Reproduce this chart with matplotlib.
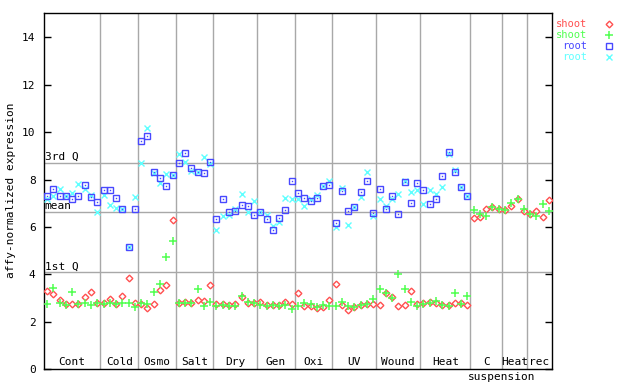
import numpy as np
import matplotlib
matplotlib.use("Agg")
import matplotlib.pyplot as plt
from matplotlib.lines import Line2D

group_names = ["Cont", "Cold", "Osmo", "Salt", "Dry", "Gen", "Oxi", "UV", "Wound", "Heat", "C", "Heat", "rec"]
group_sizes = [9, 6, 6, 6, 7, 6, 6, 7, 7, 8, 5, 4, 4]

shoot_red = [3.29, 3.15, 2.91, 2.75, 2.75, 2.75, 3.04, 3.25, 2.80,
             2.80, 2.97, 2.75, 3.07, 3.84, 2.80,
             2.75, 2.56, 2.75, 3.34, 3.55, 6.29,
             2.80, 2.83, 2.80, 2.91, 2.87, 3.55,
             2.75, 2.75, 2.70, 2.75, 3.04, 2.80, 2.80,
             2.83, 2.70, 2.70, 2.70, 2.83, 2.75,
             3.21, 2.66, 2.66, 2.56, 2.62, 2.91,
             3.59, 2.70, 2.48, 2.60, 2.70, 2.75, 2.75,
             2.70, 3.21, 3.04, 2.65, 2.70, 3.29, 2.75,
             2.77, 2.83, 2.80, 2.70, 2.70, 2.80, 2.80, 2.70,
             6.37, 6.41, 6.75, 6.83, 6.75,
             6.70, 6.87, 7.17, 6.66,
             6.53, 6.66, 6.41, 7.13]

shoot_green = [2.75, 3.41, 2.80, 2.70, 3.24, 2.75, 2.80, 2.69, 2.80,
               2.75, 2.80, 2.75, 2.80, 2.80, 2.62,
               2.80, 2.75, 3.24, 3.59, 4.73, 5.40,
               2.80, 2.80, 2.80, 3.37, 2.66, 2.83,
               2.66, 2.70, 2.66, 2.66, 3.10, 2.83, 2.80,
               2.70, 2.66, 2.70, 2.66, 2.70, 2.52,
               2.66, 2.80, 2.75, 2.62, 2.70, 2.66,
               2.66, 2.83, 2.66, 2.62, 2.70, 2.75, 2.96,
               3.37, 3.21, 2.99, 4.00, 3.37, 2.83, 2.66,
               2.75, 2.80, 2.86, 2.70, 2.66, 3.21, 2.75, 3.08,
               6.70, 6.53, 6.45, 6.83, 6.75,
               6.70, 7.00, 7.17, 6.75,
               6.53, 6.45, 6.96, 6.66]

root_blue = [7.29, 7.59, 7.29, 7.29, 7.17, 7.29, 7.76, 7.26, 7.05,
             7.55, 7.55, 7.21, 6.74, 5.14, 6.74,
             9.62, 9.83, 8.33, 8.08, 7.73, 8.18,
             8.69, 9.12, 8.48, 8.31, 8.26, 8.73,
             6.32, 7.17, 6.62, 6.66, 6.94, 6.90, 6.49,
             6.62, 6.32, 5.86, 6.36, 6.70, 7.93,
             7.42, 7.21, 7.10, 7.21, 7.72, 7.76,
             6.15, 7.51, 6.66, 6.82, 7.46, 7.93, 6.58,
             7.59, 6.74, 7.29, 6.53, 7.89, 7.00, 7.84,
             7.55, 6.96, 7.17, 8.14, 9.15, 8.31, 7.67, 7.31]

root_cyan = [7.19, 7.29, 7.59, 7.29, 7.42, 7.81, 7.59, 7.33, 6.62,
             7.33, 6.91, 6.79, 6.74, 5.14, 7.25,
             8.69, 10.18, 8.28, 7.85, 8.22, 8.18,
             9.08, 8.73, 8.34, 8.31, 8.94, 8.64,
             5.87, 6.47, 6.50, 6.74, 7.38, 6.62, 7.08,
             6.62, 6.50, 6.03, 6.21, 7.21, 7.17,
             7.17, 6.87, 7.17, 7.33, 7.72, 7.93,
             5.98, 7.63, 6.07, 6.82, 7.28, 8.31, 6.44,
             7.17, 6.87, 7.17, 7.38, 7.93, 7.46, 7.55,
             6.96, 7.55, 7.38, 7.67, 9.07, 8.39, 7.67, 7.31]

q3_value = 8.69
mean_value = 6.62
q1_value = 4.08

RED = "#ff5050"
GREEN = "#50ff50"
BLUE = "#4848ff"
CYAN = "#60ffff"
GRID = "#a8a8a8"
FONT = "DejaVu Sans Mono"
FS = 8

n = len(shoot_red)
x_all = np.arange(n)
x_root = np.arange(len(root_blue))

fig = plt.figure(figsize=(6.4, 3.84), dpi=100)
ax = fig.add_axes([44 / 640, 15 / 384, 508 / 640, 356 / 384])
ax.set_xlim(-0.5, n - 0.5)
ax.set_ylim(0, 15.03)

bounds = np.cumsum(group_sizes)
for b in bounds[:-1]:
    ax.axvline(b - 0.5, color=GRID, lw=1.0, zorder=1)

for v in (q3_value, mean_value, q1_value):
    ax.axhline(v, color=GRID, lw=1.0, zorder=1)

ax.text(-0.4, q3_value + 0.04, "3rd Q", fontsize=FS, family=FONT, va="bottom", ha="left")
ax.text(-0.4, mean_value + 0.04, "mean", fontsize=FS, family=FONT, va="bottom", ha="left")
ax.text(-0.4, q1_value + 0.04, "1st Q", fontsize=FS, family=FONT, va="bottom", ha="left")

ax.plot(x_root, root_cyan, ls="none", marker="x", ms=4.2, mew=1.0, color=CYAN, zorder=3)
ax.plot(x_root, root_blue, ls="none", marker="s", ms=4.2, mew=1.0, mfc="none", mec=BLUE, zorder=4)
ax.plot(x_root, root_blue, ls="none", marker="s", ms=1.0, mew=0, color=BLUE, zorder=4)
ax.plot(x_all, shoot_red, ls="none", marker="D", ms=3.4, mew=1.0, mfc="white", mec=RED, zorder=3)
ax.plot(x_all, shoot_green, ls="none", marker="+", ms=5.5, mew=1.1, color=GREEN, zorder=4)

start = 0
for name, size in zip(group_names, group_sizes):
    center = start + (size - 1) / 2
    ax.text(center, 0.1, name, fontsize=FS, family=FONT, ha="center", va="bottom")
    start += size
fig.text(502 / 640, 1 - 377 / 384, "suspension", fontsize=FS, family=FONT,
         ha="center", va="center")

ax.set_xticks([])
ax.set_yticks(np.arange(0, 15, 2))
ax.set_yticklabels([str(v) for v in range(0, 15, 2)], family=FONT, fontsize=FS)
ax.tick_params(axis="y", direction="in", length=5, width=1, left=True, right=True, pad=6)
for s in ax.spines.values():
    s.set_linewidth(1.0)
fig.text(11 / 640, 1 - 190 / 384, "affy-normalized expression", family=FONT, fontsize=FS,
         rotation=90, ha="center", va="center")

leg = [("shoot", RED, dict(marker="D", ms=3.4, mfc="white", mec=RED, mew=1.0)),
       ("shoot", GREEN, dict(marker="+", ms=5.5, color=GREEN, mew=1.1)),
       ("root", BLUE, dict(marker="s", ms=4.2, mfc="none", mec=BLUE, mew=1.0)),
       ("root", CYAN, dict(marker="x", ms=4.2, color=CYAN, mew=1.0))]
for k, (lab, col, mk) in enumerate(leg):
    ypix = 24 + 11 * k
    yf = 1 - ypix / 384
    fig.text(587 / 640, yf, lab, color=col, family=FONT, fontsize=7.5, ha="right", va="center")
    fig.add_artist(Line2D([609 / 640], [yf], transform=fig.transFigure, ls="none", **mk))

fig.savefig("out.png", dpi=100)
